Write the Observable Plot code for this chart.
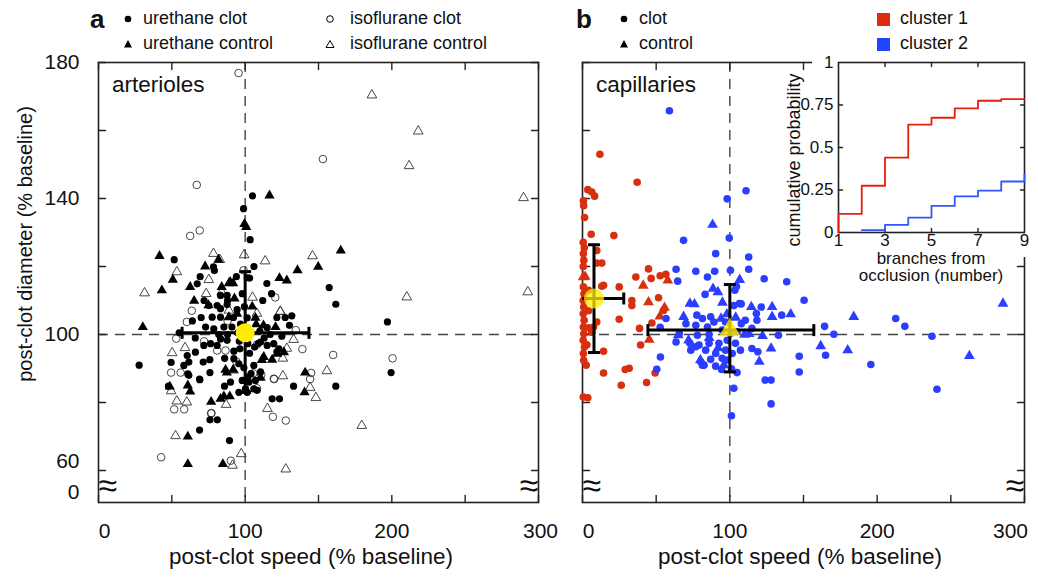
<!DOCTYPE html>
<html><head><meta charset="utf-8">
<script src="https://cdn.jsdelivr.net/npm/d3@7"></script>
<script src="https://cdn.jsdelivr.net/npm/@observablehq/plot@0.6"></script>
<style>
body{margin:0;background:#fff;font-family:"Liberation Sans",Arial,sans-serif;color:#111}
#wrap{position:relative;width:1038px;height:580px;overflow:hidden;background:#fff}
.abs{position:absolute;white-space:nowrap;line-height:1}
.lg{font-size:18px}
.ttl{font-size:22.5px}
.pnl{position:absolute;top:0}
</style></head><body><div id="wrap"></div>
<script>
// ---------------- DATA ----------------
// panel a: arterioles (post-clot speed %, post-clot diameter %)
const urethaneClot = [[105,140.8],[98.9,137],[103.4,127.9],[51.6,122],[78.4,119.9],[69.3,117],[103,116.6],[114.8,115],[157.3,113.8],[161.8,108.9],[197,103.7],[27.7,91],[199.5,88.8],[161.8,84.8],[133,84.8],[49.5,91.8],[47.7,84.8],[60.9,88.4],[68.9,86.9],[76,88.8],[85.9,84.8],[118.4,81.1],[123.4,81.1],[76,74.9],[81,74.9],[68.9,71.9],[89.3,68.8],[121.6,105],[127.3,105],[131.8,105.5],[130.2,102.7],[79,118.8],[67.3,114.9],[101.4,116.7],[83.2,111.5],[87.7,111.5],[75.2,108.5],[80.9,108.5],[99.5,108.2],[83.2,107.6],[87.7,108.8],[94.5,107.3],[77.5,105.1],[83.2,105.1],[101.4,104.9],[73,102.2],[78.6,101.7],[85.5,102.2],[91,102.2],[96.8,103.1],[71.8,96.8],[76.4,97.3],[80.9,96.8],[83.2,98.7],[87.7,98.3],[66.1,94.8],[60.5,93.8],[61.6,91.9],[58.2,90.9],[71.4,91.9],[75.9,92.6],[61.6,88],[69.1,86.7],[92.3,92.9],[95.7,91.4],[99.1,90.2],[101.8,87.5],[102.5,86],[100.2,84],[95.7,83],[101.4,83],[105.9,84],[105.9,90.9],[110.5,89],[107,86.5],[108.2,83.6],[92.3,95.1],[96.4,95.8],[101.8,97.3],[106.4,96.3],[110.5,97.8],[115,96.8],[119.5,97.3],[123,95.8],[95,100.5],[104,100.5],[110,101],[88,100],[115,102],[98,112],[92,105],[109,97.4],[121.6,94.9],[96,98],[103,94.5],[98,86.5],[104,88.5],[90,86],[86,93],[82,100],[113,99],[117,100],[125,99.5],[70,105],[66,99],[64,104],[55,100.5],[88,110],[112,110],[118,112],[94,117],[106,120],[72,110]];
const urethaneControl = [[116.6,140.9],[100.7,131.6],[99.5,132.5],[165.2,124.7],[149.8,119.9],[135.7,118.9],[123.4,116.6],[128.4,115.9],[41.6,123.1],[50.7,116.1],[43.2,113],[30.2,102.2],[62.5,114],[72.7,120],[81.8,122],[65.2,109.9],[84,114],[89.8,115.5],[92.7,110.6],[75,108.6],[60.9,85],[62.5,83.2],[76.8,80.2],[60.9,70],[60.9,61.9],[84.8,61.9],[140.9,88.8],[140.5,83],[87.5,88.8],[112.5,102.7],[107.5,103],[88.9,115.1],[91.8,115.1],[104.8,108.2],[88.9,105.1],[94.5,106.1],[107,104.9],[120.7,102.2],[86.6,89.6],[91.8,89.6],[110.5,87.3],[112.7,93.4],[118.4,92.6],[121.8,94.3],[126.4,94.8],[48.6,84.7],[83.2,81.1],[85.5,81.8],[89.5,81.8],[111.4,92.5]];
const isoClot = [[95.5,176.9],[153,151.6],[67,144],[62.5,129],[69,130.6],[120.5,110.9],[63.6,107],[60.2,103.7],[53,98.8],[139,95.7],[160,94],[200.5,93],[49.5,88.8],[56,88.8],[119.8,86.9],[144.3,86.9],[145,88.7],[51.6,78],[58.4,78],[76.8,76.8],[118.9,75.8],[127.7,74.7],[42.7,63.9],[90.2,62.9],[134.5,101.3],[98.9,118.9],[80.9,95.3],[86.6,95.3],[119.5,87],[77,76.9],[88,104],[108,97],[108,84.2],[105.5,88.6],[111,88.1],[94,92],[72,98]];
const isoControl = [[186.4,170.4],[218,159.8],[211.8,149.6],[289.8,140.2],[292.7,112.5],[210.2,111],[31.4,112.2],[53.4,118.4],[78.4,123.8],[82.7,122],[99.3,123.4],[113.6,121.6],[145.9,123.1],[73.4,112],[105,110.9],[123.9,106.7],[108,106.2],[133,98.5],[128.4,95.9],[59,96.1],[50.2,94.6],[125.7,93],[125.7,87.8],[155.7,89.3],[144.3,84.4],[148.2,81.4],[49.5,83.4],[53.4,80.4],[60.2,80.1],[87,79.4],[115.2,78.2],[179.5,73.2],[52.5,70.2],[97.3,64.9],[91.4,61.5],[127.7,60.4],[84,112.5],[92,89.5],[75.2,116.1],[88.9,107.1],[124,106.8]];
// panel a mean +/- sd
const meanA = [{x:100, y:100.5, xlo:57, xhi:143.5, ylo:83, yhi:118.5}];

// panel b: capillaries
const c1Clot = [[11.8,153],[37.1,144.8],[3.6,142.6],[6.3,141.9],[8.2,140.7],[0.6,139.3],[0.8,137.9],[1.4,134.4],[5.9,129.5],[21.3,129.1],[0.5,127.1],[1.2,125.5],[0.6,123.8],[0.9,121.8],[0.5,120],[9.7,124.7],[9.7,121],[13.1,121],[0.6,114],[1.0,112],[0.5,110],[0.8,108.1],[0.5,106.1],[1.1,104.2],[0.6,102.2],[0.9,100.2],[0.5,98.3],[1.3,96.3],[0.6,94.4],[0.8,92.4],[4.1,113],[4.1,107],[4.1,102],[13.1,114.2],[14.3,114.5],[24.9,114],[9.7,103.7],[7.5,102.2],[6.3,100.7],[14.3,95.1],[24.9,104.5],[33.5,110],[33.5,108.5],[36.2,116.9],[44.8,119.3],[46.6,116.5],[52.7,117.3],[56.6,117.7],[51.6,110.8],[55,107.1],[47.1,103.4],[38.7,101.8],[39.4,96.9],[14.3,88.7],[29,89.7],[31.7,90.1],[26.3,85.1],[43.5,85.9],[49.3,88.7],[0.5,81.6],[3.6,81.4],[3,97],[2.5,91]];
const c1Control = [[41.2,114.4],[57.9,115.9],[44.8,109.5],[55.7,107.9],[52.5,105.3],[45.3,98.5],[0.5,116.9],[1.8,117]];
const c2Clot = [[59,165.8],[111,142.3],[98.2,139.9],[99.6,128.4],[68.6,127.7],[90.4,123.8],[112.8,122.8],[63.5,119.2],[76.9,118.6],[89.7,118.6],[100.4,118.9],[112.8,119.2],[84.8,116.9],[64.6,115.7],[123.3,116.4],[138.6,115.5],[83.2,111.8],[103.4,113],[150.4,110.1],[106.5,109.1],[121.3,108.1],[56.7,104.7],[77.6,105.7],[81.4,104.7],[87,105.2],[118,106.2],[118.4,104.2],[135.2,105.7],[212.6,104.7],[218.8,102.4],[164.3,102.4],[52.7,102.1],[78,99.8],[85.9,100.1],[133,99.8],[170.6,100.1],[237.2,99.5],[63.5,97.8],[79.1,96.9],[85.9,97.4],[107.2,95.4],[115,95.9],[119,94.9],[147.1,93.6],[165,93.9],[52.9,93.4],[50.4,89.8],[104.9,88.8],[147.1,89],[195.7,91.2],[124,86.6],[128,86.6],[102.7,84.2],[128,79.6],[240.6,83.9],[101.1,76.1],[104.5,114.1],[107.7,109],[102.7,108.5],[101.1,89.9],[65.7,100.3],[72.9,97.4],[76.9,96.4],[80.3,92],[82.5,91],[87,92.7],[90.4,94.4],[94.8,93],[97.1,95.4],[92.6,97.4],[101.6,94.4],[103.8,97.4],[107.8,103.2],[110.5,104.2],[115,101.8],[94.8,101.3],[70.2,103.2],[76.9,102.7],[84.8,102.2],[89.2,103.7],[73.5,95.4],[83.6,95.4],[90.4,90.7],[94.4,89.7],[98.2,92.5],[81.4,91],[100.4,100.3],[98.2,98.3],[104.9,100.8],[97.1,103.7]];
const c2Control = [[88.3,132.3],[106.7,116.1],[88.6,113.5],[91.9,112.5],[72.9,109.1],[76,108.9],[95,109.4],[114.6,108.1],[128.7,108.1],[68.6,105.2],[94,104.7],[128.7,105.2],[141.3,106],[184.1,105.2],[285.4,109.1],[65,99.8],[72,98.3],[113,100.2],[122.2,99.6],[128,95.9],[161.7,96.6],[180,95.4],[262.6,93.7],[92,96],[96,91],[86,99],[104,105],[110,100],[98,106],[80,92.5],[120,92]];
// cluster means +/- sd
const meanC1 = [{x:7.8, y:110.6, xlo:-12.4, xhi:28, ylo:94.7, yhi:126.4}];
const meanC2 = [{x:100, y:101.3, xlo:44.4, xhi:157, ylo:89, yhi:114.7}];

// inset: cumulative probability vs branches from occlusion
const c1Branch = [1,1,2,3,4,5,6,7,8,9];
const c1Cum    = [0,0.11,0.275,0.44,0.635,0.675,0.73,0.775,0.785,0.785];
const c2Branch = [2,3,4,5,6,7,8,9];
const c2Cum    = [0.014,0.045,0.088,0.157,0.212,0.246,0.30,0.34];

// axis ticks
const xTicks = [0,50,100,150,200,250,300];
const xLabelsMid = [100,200];
const yTicks = [60,80,100,120,140,160,180];
const yBottom = 50.6;            // broken axis bottom, labelled "0"
const yLabelsMain = [100,140,180];
const insetYTicks = [0,0.25,0.5,0.75,1];
const insetXLabels = [1,3,5,7,9];

// ---------------- STYLE ----------------
const FONT = '"Liberation Sans", Arial, sans-serif';
const RED = "#d8300f", BLUE = "#2b3dff", YEL = "#ffec00";
const wrap = document.getElementById("wrap");

const vbar = {draw(c, s){const r=Math.sqrt(s/Math.PI); c.moveTo(0,-r); c.lineTo(0,r);}};
const hbar = {draw(c, s){const r=Math.sqrt(s/Math.PI); c.moveTo(-r,0); c.lineTo(r,0);}};
const tickShape = {draw(c, l){ c.moveTo(0,0); c.lineTo(0,-l); }};
const P = d => d[0], Q = d => d[1];

function innerTicks(xt, yt, len) {
  const o = {length: len, shape: tickShape, anchor: "start", stroke: "#222", strokeWidth: 1.4};
  return [
    Plot.vector(xt, {x: d => d, frameAnchor: "bottom", rotate: 0, ...o}),
    Plot.vector(xt, {x: d => d, frameAnchor: "top", rotate: 180, ...o}),
    Plot.vector(yt, {y: d => d, frameAnchor: "left", rotate: 90, ...o}),
    Plot.vector(yt, {y: d => d, frameAnchor: "right", rotate: -90, ...o})
  ];
}
function errorMarks(m, clip) {
  const s = {stroke: "#000", strokeWidth: 3, clip};
  return [
    Plot.ruleY(m, {y: "y", x1: "xlo", x2: "xhi", ...s}),
    Plot.ruleX(m, {x: "x", y1: "ylo", y2: "yhi", ...s}),
    Plot.dot(m, {x: "xlo", y: "y", symbol: vbar, r: 6, fill: "none", ...s}),
    Plot.dot(m, {x: "xhi", y: "y", symbol: vbar, r: 6, fill: "none", ...s}),
    Plot.dot(m, {x: "x", y: "ylo", symbol: hbar, r: 6, fill: "none", ...s}),
    Plot.dot(m, {x: "x", y: "yhi", symbol: hbar, r: 6, fill: "none", ...s})
  ];
}
function panel(width, marginLeft, marginRight, withYLabels, lastDx, marks) {
  const breakY = (yTicks[0] + yBottom) / 2;
  const lab = {anchor: "bottom", tickSize: 0, tickPadding: 21, label: null, fontSize: 21};
  const ylab = {anchor: "left", tickSize: 0, tickPadding: 19, label: null, fontSize: 21};
  return Plot.plot({
    width, height: 580, marginLeft, marginRight, marginTop: 62, marginBottom: 78,
    x: {domain: [0, 300], label: null},
    y: {domain: [yBottom, 180], label: null, axis: withYLabels ? undefined : null},
    style: {fontFamily: FONT, fontSize: "21px", background: "transparent", overflow: "visible", color: "#111"},
    marks: [
      Plot.ruleX([100], {stroke: "#444", strokeWidth: 1.4, strokeDasharray: "10,7"}),
      Plot.ruleY([100], {stroke: "#444", strokeWidth: 1.4, strokeDasharray: "10,7"}),
      Plot.frame({stroke: "#222", strokeWidth: 1.6}),
      ...innerTicks(xTicks, yTicks, 7),
      Plot.axisX(xLabelsMid, lab),
      Plot.axisX([xTicks[0]], {...lab, dx: 6}),
      Plot.axisX([xTicks[xTicks.length - 1]], {...lab, dx: lastDx}),
      ...(withYLabels ? [
        Plot.axisY(yLabelsMain, ylab),
        Plot.axisY([yTicks[0]], {...ylab, dy: -9}),
        Plot.axisY([yBottom], {...ylab, dy: -10, tickFormat: () => "0"})
      ] : []),
      Plot.text([breakY], {y: d => d, frameAnchor: "left", text: () => "≈", fontSize: 34, fill: "#111"}),
      Plot.text([breakY], {y: d => d, frameAnchor: "right", text: () => "≈", fontSize: 34, fill: "#111"}),
      ...marks
    ]
  });
}

// panel a
const svgA = panel(560, 98, 22, true, 2, [
  Plot.dot(isoClot, {x: P, y: Q, r: 3.8, fill: "none", stroke: "#333", strokeWidth: 0.9}),
  Plot.dot(isoControl, {x: P, y: Q, r: 3.6, symbol: "triangle", fill: "none", stroke: "#333", strokeWidth: 0.9}),
  Plot.dot(urethaneClot, {x: P, y: Q, r: 3.6, fill: "#000"}),
  Plot.dot(urethaneControl, {x: P, y: Q, r: 3.8, symbol: "triangle", fill: "#000"}),
  ...errorMarks(meanA, false),
  Plot.dot(meanA, {x: "x", y: "y", r: 9.5, fill: YEL})
]);
svgA.classList.add("pnl"); svgA.style.left = "0px";
wrap.appendChild(svgA);

// panel b
const svgB = panel(478, 22, 14, false, -14, [
  Plot.dot(c1Clot, {x: P, y: Q, r: 3.8, fill: RED}),
  Plot.dot(c1Control, {x: P, y: Q, r: 4, symbol: "triangle", fill: RED}),
  Plot.dot(c2Clot, {x: P, y: Q, r: 3.8, fill: BLUE}),
  Plot.dot(c2Control, {x: P, y: Q, r: 4, symbol: "triangle", fill: BLUE}),
  ...errorMarks(meanC1, true),
  ...errorMarks(meanC2, true),
  Plot.dot(meanC1, {x: "x", y: "y", r: 10, fill: YEL, fillOpacity: 0.75}),
  Plot.dot(meanC2, {x: "x", y: "y", r: 8, symbol: "triangle", fill: YEL, fillOpacity: 0.8})
]);
svgB.classList.add("pnl"); svgB.style.left = "560px";
wrap.appendChild(svgB);

// inset
const c1Steps = c1Branch.map((b, i) => ({b, p: c1Cum[i]}));
const c2Steps = c2Branch.map((b, i) => ({b, p: c2Cum[i]}));
const svgI = Plot.plot({
  width: 226, height: 205, marginLeft: 26, marginRight: 14, marginTop: 10, marginBottom: 25,
  x: {domain: [1, 9], label: null},
  y: {domain: [0, 1], label: null},
  style: {fontFamily: FONT, fontSize: "17px", background: "#fff", overflow: "visible", color: "#111"},
  marks: [
    Plot.frame({stroke: "#222", strokeWidth: 1.6}),
    ...innerTicks([3,5,7], [0.25,0.5,0.75], 4),
    Plot.axisY(insetYTicks, {anchor: "left", tickSize: 0, tickPadding: 5, label: null, fontSize: 17, tickFormat: d => String(d)}),
    Plot.axisX(insetXLabels, {anchor: "bottom", tickSize: 0, tickPadding: 1, label: null, fontSize: 17}),
    Plot.line(c1Steps, {x: "b", y: "p", curve: "step-after", stroke: "#e3200c", strokeWidth: 1.8}),
    Plot.line(c2Steps, {x: "b", y: "p", curve: "step-after", stroke: "#3355ff", strokeWidth: 1.8})
  ]
});
svgI.classList.add("pnl"); svgI.style.left = "812px"; svgI.style.top = "52px";
wrap.appendChild(svgI);

// ---------------- TEXT / LEGENDS ----------------
function txt(html, left, top, cls, extra) {
  const d = document.createElement("div");
  d.className = "abs " + (cls || "");
  d.style.left = left + "px"; d.style.top = top + "px";
  if (extra) Object.assign(d.style, extra);
  d.innerHTML = html;
  wrap.appendChild(d);
  return d;
}
const sym = {
  dot: '<svg width="10" height="10" style="vertical-align:middle"><circle cx="5" cy="5" r="3.3" fill="#000"/></svg>',
  tri: '<svg width="10" height="10" style="vertical-align:middle"><path d="M5,1 L9,8.5 L1,8.5Z" fill="#000"/></svg>',
  ocirc: '<svg width="10" height="10" style="vertical-align:middle"><circle cx="5" cy="5" r="3.3" fill="none" stroke="#000" stroke-width="1"/></svg>',
  otri: '<svg width="10" height="10" style="vertical-align:middle"><path d="M5,1.5 L9,8.5 L1,8.5Z" fill="none" stroke="#000" stroke-width="1"/></svg>',
  sq: c => `<svg width="13" height="13" style="vertical-align:middle"><rect x="0" y="0" width="13" height="13" fill="${c}"/></svg>`
};
txt("a", 90, 6, "", {fontSize: "26px", fontWeight: "bold"});
txt("b", 576, 6, "", {fontSize: "26px", fontWeight: "bold"});
txt(sym.dot + '&nbsp;&nbsp;urethane clot', 123, 9, "lg");
txt(sym.tri + '&nbsp;&nbsp;urethane control', 123, 34, "lg");
txt(sym.ocirc + '&nbsp;&nbsp;&nbsp;isoflurane clot', 325, 9, "lg");
txt(sym.otri + '&nbsp;&nbsp;&nbsp;isoflurane control', 325, 34, "lg");
txt(sym.dot + '&nbsp;&nbsp;clot', 619, 9, "lg");
txt(sym.tri + '&nbsp;&nbsp;control', 619, 34, "lg");
txt(sym.sq("#e02a10") + '&nbsp;&nbsp;cluster 1', 877, 9, "lg");
txt(sym.sq("#2244ff") + '&nbsp;&nbsp;cluster 2', 877, 34, "lg");
txt("arterioles", 112, 74, "", {fontSize: "22.5px"});
txt("capillaries", 596, 74, "", {fontSize: "22.5px"});
txt("post-clot speed (% baseline)", 311, 546, "ttl", {transform: "translateX(-50%)"});
txt("post-clot speed (% baseline)", 800, 546, "ttl", {transform: "translateX(-50%)"});
txt("post-clot diameter (% baseline)", 25, 244, "", {transform: "translate(-50%,-50%) rotate(-90deg)", fontSize: "20px"});
txt("cumulative probability", 794, 160, "", {fontSize: "18px", transform: "translate(-50%,-50%) rotate(-90deg)"});
txt("branches from<br>occlusion (number)", 931, 250, "", {fontSize: "17px", transform: "translateX(-50%)", textAlign: "center", lineHeight: "17px"});
</script></body></html>
